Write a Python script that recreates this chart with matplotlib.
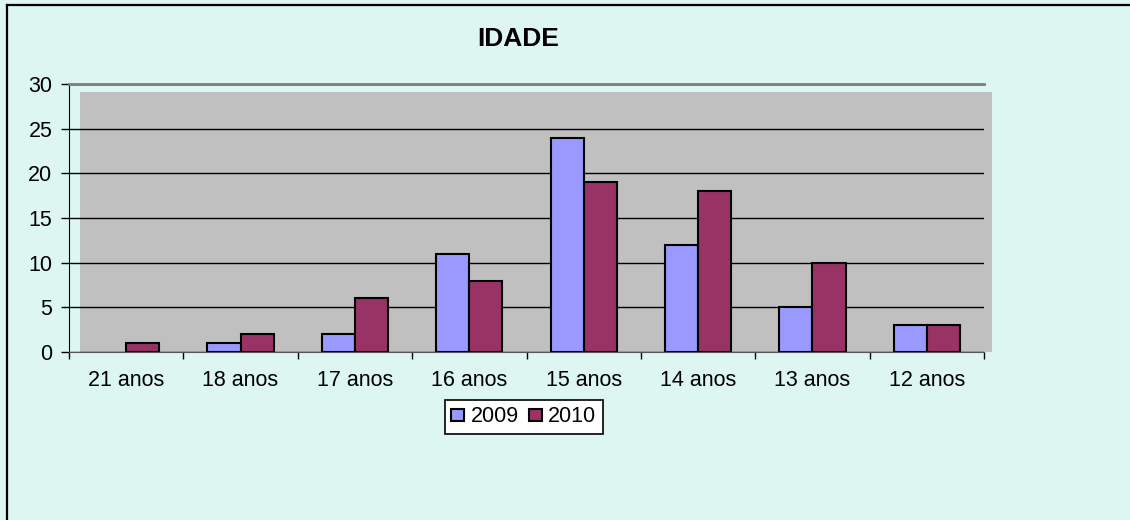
import matplotlib
matplotlib.use("Agg")
import matplotlib.pyplot as plt
from matplotlib.patches import Rectangle, Patch
from matplotlib.lines import Line2D
import numpy as np

plt.rcParams["font.family"] = ["Liberation Sans", "DejaVu Sans"]

categories = ["21 anos", "18 anos", "17 anos", "16 anos", "15 anos", "14 anos", "13 anos", "12 anos"]
vals_2009 = [0, 1, 2, 11, 24, 12, 5, 3]
vals_2010 = [1, 2, 6, 8, 19, 18, 10, 3]
series_names = ["2009", "2010"]

color1 = '#9999FF'  # 2009
color2 = '#993366'  # 2010
bg = '#DDF6F1'
plotbg = '#C0C0C0'
fs = 15.5

fig = plt.figure(figsize=(11.3, 5.2), dpi=100, facecolor=bg)
ax = fig.add_axes([69/1130, 1-352/520, 915/1130, 268/520])
ax.patch.set_visible(False)

# gray plot area, slightly offset like the original
ax.add_patch(Rectangle((0.012, 0), 0.9967, 0.970, transform=ax.transAxes,
                       facecolor=plotbg, edgecolor='none', clip_on=False, zorder=0.1))

x = np.arange(len(categories))
w = 0.29
lw1 = [0 if v == 0 else 1.5 for v in vals_2009]
lw2 = [0 if v == 0 else 1.5 for v in vals_2010]
ax.bar(x - w/2, vals_2009, w, color=color1, edgecolor='black', linewidth=lw1, zorder=2)
ax.bar(x + w/2, vals_2010, w, color=color2, edgecolor='black', linewidth=lw2, zorder=2)

ax.set_xlim(-0.5, len(categories) - 0.5)
ax.set_ylim(0, 30)
ax.set_yticks(range(0, 31, 5))
ax.set_axisbelow(True)
ax.yaxis.grid(True, color='black', linewidth=1.0)

ax.set_xticks(np.arange(len(categories) + 1) - 0.5)
ax.set_xticklabels([])
ax.set_xticks(x, minor=True)
ax.set_xticklabels(categories, minor=True)
ax.tick_params(axis='x', which='major', direction='out', length=5, width=1, color='black')
ax.tick_params(axis='x', which='minor', length=0, pad=13, labelsize=fs)
ax.tick_params(axis='y', direction='out', length=6, width=1, pad=6, labelsize=fs)

ax.spines['right'].set_visible(False)
ax.spines['top'].set_color('#7A807E')
ax.spines['top'].set_linewidth(2)
ax.spines['left'].set_color('black')
ax.spines['bottom'].set_color('#555555')

fig.text(0.4584, 0.925, "IDADE", ha='center', va='center', fontsize=19, fontweight='bold')

handles = [Patch(facecolor=color1, edgecolor='black', linewidth=1.5),
           Patch(facecolor=color2, edgecolor='black', linewidth=1.5)]
leg = ax.legend(handles, series_names, loc='center left', bbox_to_anchor=(445/1130, 1-417/520),
                bbox_transform=fig.transFigure,
                ncol=2, fontsize=fs, frameon=True, fancybox=False, framealpha=1,
                edgecolor='black', handlelength=0.6, handleheight=0.5, handletextpad=0.28,
                columnspacing=0.5, borderpad=0.3, borderaxespad=0)
leg.get_frame().set_linewidth(1.2)

# outer frame (left and top edges visible)
fig.add_artist(Line2D([7/1130, 7/1130], [0, 1-5/520], transform=fig.transFigure, color='black', linewidth=1.6))
fig.add_artist(Line2D([7/1130, 1], [1-5/520, 1-5/520], transform=fig.transFigure, color='black', linewidth=1.6))

fig.savefig("out.png", dpi=100, facecolor=bg)
